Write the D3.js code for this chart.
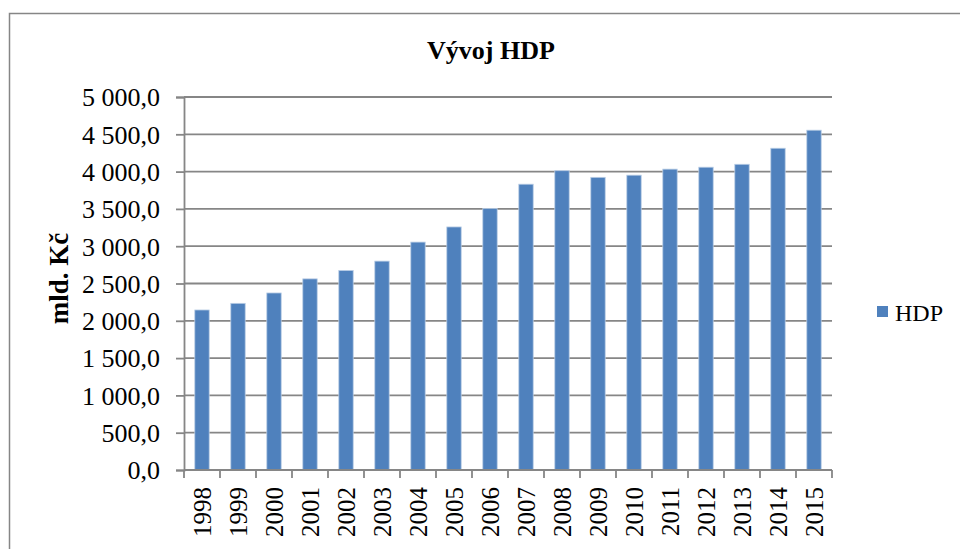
<!DOCTYPE html>
<html lang="cs">
  <head>
    <meta charset="utf-8" />
    <title>Vývoj HDP</title>
    <script src="https://cdn.jsdelivr.net/npm/d3@7"></script>
    <style>
      body { margin: 0; background: #fff; }
      svg text { font-family: "Liberation Serif", "Times New Roman", serif; fill: #000; }
    </style>
  </head>
  <body>
    <script>
      // data (mld. Kč)
      const years = ["1998", "1999", "2000", "2001", "2002", "2003", "2004", "2005", "2006",
        "2007", "2008", "2009", "2010", "2011", "2012", "2013", "2014", "2015"];
      const hdp = [2145, 2234, 2373, 2562, 2674, 2800, 3055, 3258, 3505,
        3831, 4012, 3923, 3952, 4033, 4059, 4098, 4313, 4555];
      const yTicks = [0, 500, 1000, 1500, 2000, 2500, 3000, 3500, 4000, 4500, 5000];
      const seriesName = "HDP";

      const width = 960, height = 549;
      const grey = "#868686";
      const barColor = "#4f81bd";

      const svg = d3.select("body").append("svg")
        .attr("width", width)
        .attr("height", height);

      // chart frame (runs off the right and bottom edge like the screenshot)
      svg.append("rect")
        .attr("x", 9.5).attr("y", 13.5)
        .attr("width", 980).attr("height", 560)
        .attr("fill", "none")
        .attr("stroke", grey)
        .attr("stroke-width", 1.5);

      const plot = { left: 184, right: 832, top: 97, bottom: 470 };

      const x = d3.scaleBand()
        .domain(years)
        .range([plot.left, plot.right])
        .paddingInner(0.6)
        .paddingOuter(0.3);

      const y = d3.scaleLinear()
        .domain([0, 5000])
        .range([plot.bottom, plot.top]);

      const fmt = v => d3.format(",.1f")(v).replace(/,/g, " ").replace(".", ",");

      // gridlines
      svg.append("g")
        .selectAll("line")
        .data(yTicks)
        .join("line")
        .attr("x1", plot.left).attr("x2", plot.right)
        .attr("y1", d => y(d)).attr("y2", d => y(d))
        .attr("stroke", grey)
        .attr("stroke-width", 1.8);

      // y axis
      const yAxis = svg.append("g")
        .attr("transform", `translate(${plot.left},0)`)
        .call(d3.axisLeft(y).tickValues(yTicks).tickFormat(fmt).tickSize(8).tickPadding(16));
      yAxis.select(".domain").attr("stroke", grey).attr("stroke-width", 1.8);
      yAxis.selectAll(".tick line").attr("stroke", grey).attr("stroke-width", 1.8);
      yAxis.selectAll(".tick text")
        .style("font-size", "26px")
        .attr("dy", "0.34em");

      // bars
      svg.append("g")
        .selectAll("rect")
        .data(years)
        .join("rect")
        .attr("x", d => x(d))
        .attr("y", (d, i) => y(hdp[i]))
        .attr("width", x.bandwidth())
        .attr("height", (d, i) => y(0) - y(hdp[i]))
        .attr("fill", barColor)
        .attr("stroke", "#b9cde5")
        .attr("stroke-width", 0.8);

      // x axis with ticks at category boundaries
      svg.append("line")
        .attr("x1", plot.left).attr("x2", plot.right)
        .attr("y1", plot.bottom).attr("y2", plot.bottom)
        .attr("stroke", grey).attr("stroke-width", 1.8);

      const bounds = d3.range(years.length + 1).map(i => plot.left + i * (plot.right - plot.left) / years.length);
      svg.append("g")
        .selectAll("line")
        .data(bounds)
        .join("line")
        .attr("x1", d => d).attr("x2", d => d)
        .attr("y1", plot.bottom).attr("y2", plot.bottom + 8)
        .attr("stroke", grey).attr("stroke-width", 1.8);

      svg.append("g")
        .selectAll("text")
        .data(years)
        .join("text")
        .attr("transform", d => `translate(${x(d) + x.bandwidth() / 2 + 9},${plot.bottom + 17}) rotate(-90)`)
        .attr("text-anchor", "end")
        .style("font-size", "25px")
        .text(d => d);

      // title
      svg.append("text")
        .attr("x", 491).attr("y", 59)
        .attr("text-anchor", "middle")
        .style("font-size", "26px")
        .style("font-weight", "bold")
        .text("Vývoj HDP");

      // y label
      svg.append("text")
        .attr("transform", `translate(68,${(plot.top + plot.bottom) / 2 - 5}) rotate(-90)`)
        .attr("text-anchor", "middle")
        .style("font-size", "27px")
        .style("font-weight", "bold")
        .text("mld. Kč");

      // legend
      const legend = svg.append("g").attr("transform", "translate(877,306)");
      legend.append("rect")
        .attr("width", 11).attr("height", 11)
        .attr("fill", barColor);
      legend.append("text")
        .attr("x", 18).attr("y", 15)
        .style("font-size", "24px")
        .text(seriesName);
    </script>
  </body>
</html>
